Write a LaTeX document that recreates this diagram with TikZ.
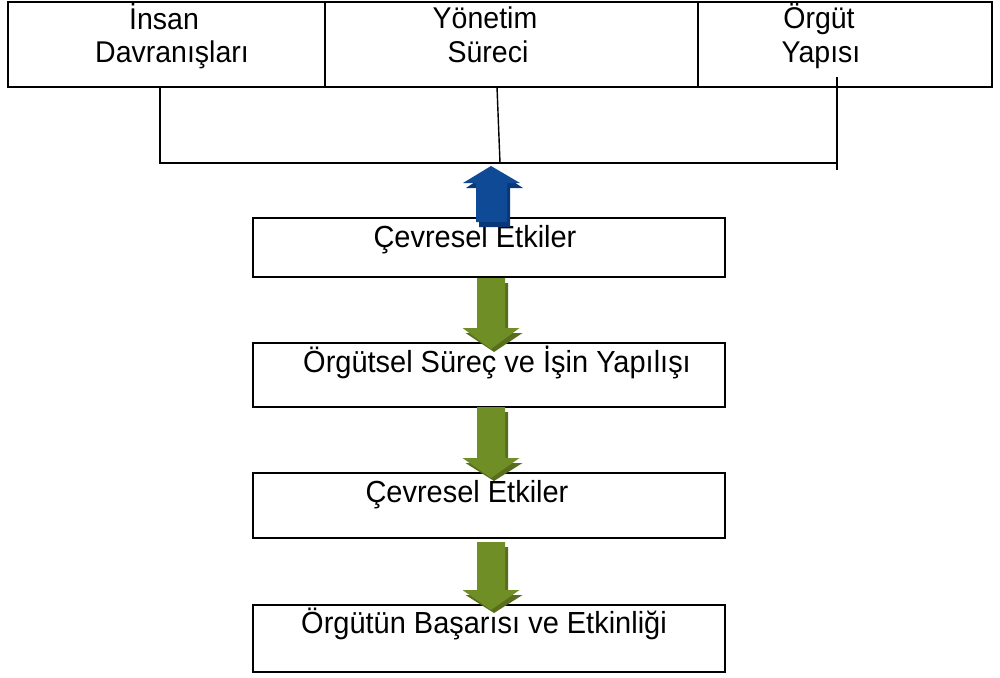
\documentclass[tikz,border=0pt]{standalone}
\usepackage{fontspec}
\setmainfont{Liberation Sans}
\newfontfamily\labelfont[FakeStretch=0.95]{Liberation Sans}

% colours of the block arrows
\definecolor{grnEdge}{RGB}{112,142,38}
\definecolor{grnMid}{RGB}{182,210,90}
\definecolor{grnShadow}{RGB}{88,110,30}
\definecolor{bluEdge}{RGB}{14,74,150}
\definecolor{bluMid}{RGB}{40,128,210}
\definecolor{bluShadow}{RGB}{10,56,118}

% downward block arrow: centre x, shaft top, head top, tip
\newcommand\flowdown[4]{%
  \fill[grnShadow] ({#1-11},{#2+5}) -- ({#1+17},{#2+5}) -- ({#1+17},{#3+5})
    -- ({#1+31.5},{#3+5}) -- ({#1+3},{#4+3}) -- ({#1-25.5},{#3+5})
    -- ({#1-11},{#3+5}) -- cycle;
  \shade[left color=grnEdge,middle color=grnMid,right color=grnEdge]
    ({#1-14},{#2}) -- ({#1+14},{#2}) -- ({#1+14},{#3})
    -- ({#1+28.5},{#3}) -- ({#1},{#4}) -- ({#1-28.5},{#3})
    -- ({#1-14},{#3}) -- cycle;
}

\begin{document}
\begin{tikzpicture}[x=1pt,y=-1pt,
  cell/.style={draw,line width=2.4pt,inner sep=0pt,outer sep=0pt},
  box/.style={draw,line width=2.6pt,inner sep=0pt,outer sep=0pt,
    minimum width=472pt},
  toptext/.style={font=\labelfont\fontsize{30}{33}\selectfont,inner sep=0pt,anchor=base},
  boxtext/.style={font=\labelfont\fontsize{30.5}{33}\selectfont,inner sep=0pt,anchor=base},
  wire/.style={line width=1.4pt}]
\useasboundingbox (0,0) rectangle (1000,677);

% top row of three cells
\node[cell,minimum width=317pt,minimum height=85pt] (c1) at (166.5,44.5) {};
\node[cell,minimum width=373pt,minimum height=85pt] (c2) at (511.5,44.5) {};
\node[cell,minimum width=294pt,minimum height=85pt] (c3) at (845,44.5) {};

\node[toptext] (t1a) at (164,30) {İnsan};
\node[toptext] (t1b) at (172,63) {Davranışları};
\node[toptext] (t2a) at (485,29) {Yönetim};
\node[toptext] (t2b) at (488,63) {Süreci};
\node[toptext] (t3a) at (819,29) {Örgüt};
\node[toptext] (t3b) at (821,63) {Yapısı};

% collecting bar under the cells
\coordinate (j1) at (160,163);
\coordinate (j2) at (500,163);
\coordinate (j3) at (837,163);
\coordinate (w2) at (497,87);
\coordinate (w3) at (837,77);
\coordinate (w3e) at (837,170);
\draw[wire] (c1.south -| j1) -- (j1) -- (j3);
\draw[wire] (w2) -- (j2);
\draw[wire] (w3) -- (w3e);

% stacked boxes
\node[box,minimum height=59pt] (b1) at (489,247.5) {};
\node[box,minimum height=64pt] (b2) at (489,375) {};
\node[box,minimum height=65pt] (b3) at (489,505.5) {};
\node[box,minimum height=67pt] (b4) at (489,638.5) {};

\node[boxtext] (l1) at (475,247) {Çevresel Etkiler};
\node[boxtext] (l2) at (497,372) {Örgütsel Süreç ve İşin Yapılışı};
\node[boxtext] (l3) at (467,502) {Çevresel Etkiler};
\node[boxtext] (l4) at (484,633) {Örgütün Başarısı ve Etkinliği};

% upward blue arrow into the bar
\fill[bluShadow] (479,227) -- (479,188) -- (466,188) -- (494,169)
  -- (523,188) -- (510,188) -- (510,227) -- cycle;
\shade[left color=bluEdge,middle color=bluMid,right color=bluEdge]
  (476,222) -- (476,183) -- (463,183) -- (491,166)
  -- (520,183) -- (507,183) -- (507,222) -- cycle;

% green arrows between the boxes
\flowdown{491}{278}{328}{349}
\flowdown{491}{407}{458}{478}
\flowdown{491}{542}{590}{610}

\fill (546,347) rectangle (548,349);
\end{tikzpicture}
\end{document}
